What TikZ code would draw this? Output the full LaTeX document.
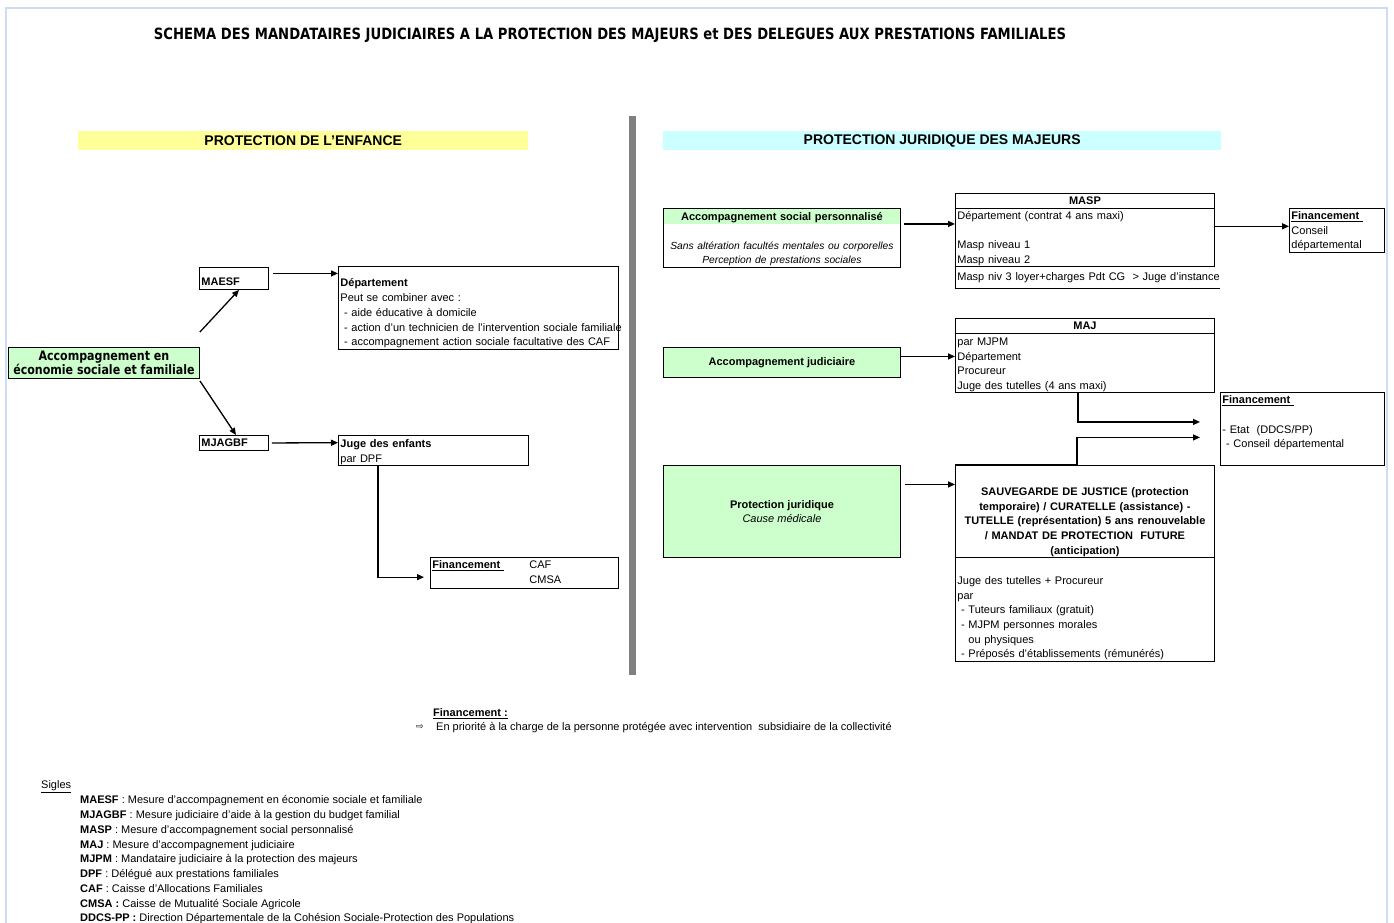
\documentclass[tikz,border=0pt]{standalone}
\usepackage{fontspec}
\setmainfont{Liberation Sans}
\newfontfamily\verdfont[FakeStretch=0.85]{DejaVu Sans}
\newfontfamily\symfont{DejaVu Sans}
\usetikzlibrary{arrows.meta,positioning,calc}
\definecolor{Cell}{HTML}{CCFFCC}
\definecolor{Jaune}{HTML}{FFFF99}
\definecolor{Ciel}{HTML}{CCFFFF}
\definecolor{Barre}{HTML}{808080}
\definecolor{Cadre}{HTML}{CFDCF5}
\newcommand\cellfont{\fontsize{11}{14.7}\selectfont}
\newcommand\haut[1]{\rule{0pt}{#1}}
\newcommand\bas[1]{\rule[-#1]{0pt}{#1}}

\begin{document}
\begin{tikzpicture}[x=1pt,y=-1pt,
    cell/.style={draw,line width=0.9pt,anchor=north west,inner xsep=2pt,inner ysep=1pt,
      align=left,font=\cellfont},
    mesure/.style={cell,fill=Cell,align=center},
    bandeau/.style={anchor=north west,minimum height=19pt,inner sep=0pt,
      font=\fontsize{14}{16}\selectfont\bfseries},
    texte/.style={anchor=west,inner sep=0pt,font=\cellfont},
    fleche/.style={-{Triangle[length=7pt,width=6pt]},line width=1.3pt}
  ]
    \useasboundingbox (0,0) rectangle (1394,923);
    \draw[Cadre,line width=2pt] (6,923) -- (6,8) -- (1387,8) -- (1387,923);

    \node[font=\verdfont\fontsize{15.5}{18}\selectfont\bfseries] (titre) at (610,35)
      {SCHEMA DES MANDATAIRES JUDICIAIRES A LA PROTECTION DES MAJEURS et DES DELEGUES AUX PRESTATIONS FAMILIALES};

    \node[bandeau,fill=Jaune,minimum width=450pt] (enfance) at (78,131) {PROTECTION DE L'ENFANCE};
    \node[bandeau,fill=Ciel,minimum width=558pt] (majeurs) at (663,131) {PROTECTION JURIDIQUE DES MAJEURS};
    \fill[Barre] (629,116) rectangle (636,675);

    % protection de l'enfance
    \node[mesure,font=\verdfont\fontsize{13}{14}\selectfont\bfseries,minimum width=191pt,minimum height=31pt]
      (aesf) at (8,347) {Accompagnement en\\économie sociale et familiale};
    \node[cell,font=\cellfont\bfseries,minimum width=69pt,text width=65pt,text height=15pt,text depth=0pt,
      inner ysep=3.5pt] (maesf) at (199,267) {MAESF};
    \node[cell,minimum width=280pt,text width=276pt,minimum height=82pt] (dept) at (338,266)
      {\haut{19.5pt}\textbf{Département}\\Peut se combiner avec :\\\ - aide éducative à domicile\\
       \mbox{\ - action d'un technicien de l'intervention sociale familiale}\\
       \ - accompagnement action sociale facultative des CAF};
    \node[cell,font=\cellfont\bfseries,minimum width=69pt,text width=65pt,minimum height=15pt]
      (mjagbf) at (199,435) {MJAGBF};
    \node[cell,minimum width=190pt,text width=186pt,minimum height=30pt] (juge) at (338,435)
      {\haut{11.5pt}\textbf{Juge des enfants}\\par DPF};
    \node[cell,minimum width=188pt,text width=184pt,minimum height=30pt] (finA) at (430,557)
      {\begin{tabular}{@{}p{97pt}@{}l@{}}\textbf{\underline{Financement\ }} & CAF\\ & CMSA\end{tabular}};

    \draw[fleche] ([yshift=15pt]aesf.north east) -- ([xshift=40pt]maesf.south west);
    \draw[fleche] ([yshift=-2pt]aesf.south east) -- ([xshift=37pt]mjagbf.north west);
    \draw[fleche] ([xshift=4pt,yshift=5pt]maesf.east) -- ([yshift=5pt]maesf.east -| dept.west);
    \draw[fleche] ([xshift=3pt]mjagbf.east) -- ([yshift=8pt]juge.west);
    \draw[fleche] ([xshift=40pt]juge.south west) |- ([xshift=-6pt,yshift=-4pt]finA.west);

    % protection des majeurs
    \node[cell,minimum width=237pt,text width=233pt,minimum height=59pt,align=center,
      path picture={\fill[Cell] (path picture bounding box.north west)
        rectangle ([yshift=-16pt]path picture bounding box.north east);}]
      (asp) at (663,208) {\haut{10.5pt}\textbf{Accompagnement social personnalisé}\\[14pt]
       \fontsize{10.3}{14.7}\selectfont\itshape Sans altération facultés mentales ou corporelles\\
       Perception de prestations sociales};
    \node[cell,font=\cellfont\bfseries,minimum width=259pt,minimum height=15pt,align=center]
      (maspT) at (955,193) {MASP};
    \node[cell,minimum width=259pt,text width=255pt,minimum height=57pt] (masp) at (955,208)
      {\haut{10.5pt}Département (contrat 4 ans maxi)\\[14.3pt]Masp niveau 1\\Masp niveau 2};
    \node[cell,draw=none,minimum width=264pt,text width=260pt,minimum height=21pt] (masp3) at (955,267)
      {\mbox{Masp niv 3 loyer+charges Pdt CG \ > Juge d'instance}};
    \draw[line width=0.9pt] (masp.south west) -- (masp3.south west) -- (masp3.south east);
    \node[cell,minimum width=95pt,text width=91pt,minimum height=43pt] (fin1) at (1289,208)
      {\haut{10pt}\textbf{\underline{Financement\ }}\\Conseil\\départemental};

    \draw[fleche] ([xshift=3pt,yshift=14pt]asp.east) -- ([yshift=14pt]asp.east -| masp.west);
    \draw[fleche] ([yshift=4pt]fin1.west -| masp.east) -- ([yshift=4pt]fin1.west);

    \node[mesure,font=\cellfont\bfseries,minimum width=237pt,minimum height=30pt] (aj) at (663,347)
      {Accompagnement judiciaire};
    \node[cell,font=\cellfont\bfseries,minimum width=259pt,minimum height=15pt,align=center]
      (majT) at (955,318) {MAJ};
    \node[cell,minimum width=259pt,text width=255pt,minimum height=58pt] (maj) at (955,333)
      {\haut{11pt}par MJPM\\Département\\Procureur\\Juge des tutelles (4 ans maxi)};
    \node[cell,minimum width=164pt,text width=160pt,minimum height=73pt] (finC) at (1220,392)
      {\haut{10pt}\textbf{\underline{Financement\ }}\\[14.7pt]- Etat \ (DDCS/PP)\\
       \ - Conseil départemental\bas{16.5pt}};

    \draw[fleche] ([yshift=6pt]aj.east) -- ([yshift=6pt]aj.east -| maj.west);

    \node[mesure,minimum width=237pt,minimum height=92pt] (pj) at (663,465)
      {\textbf{Protection juridique}\\\textit{Cause médicale}};
    \node[cell,font=\cellfont\bfseries,align=center,minimum width=259pt,text width=255pt,minimum height=92pt]
      (sauv) at (955,465)
      {\haut{29pt}SAUVEGARDE DE JUSTICE (protection\\temporaire) / CURATELLE (assistance) -\\
       \mbox{TUTELLE (représentation) 5 ans renouvelable}\\/ MANDAT DE PROTECTION \ FUTURE\\(anticipation)};
    \node[cell,minimum width=259pt,text width=255pt,minimum height=103pt] (sauvB) at (955,557)
      {\haut{26pt}Juge des tutelles + Procureur\\par\\\ - Tuteurs familiaux (gratuit)\\
       \ - MJPM personnes morales\\\ \ \ ou physiques\\\ - Préposés d'établissements (rémunérés)};

    \draw[fleche] ([xshift=4pt,yshift=27pt]pj.east) -- ([yshift=27pt]pj.east -| sauv.west);
    \draw[fleche] ([xshift=123pt]maj.south west) |- ([xshift=-20pt,yshift=7pt]finC.west);
    \draw[fleche] (sauv.north west) -- ([xshift=122pt]sauv.north west)
      |- ([xshift=-20pt,yshift=-8.5pt]finC.west);

    % notes
    \node[texte,font=\cellfont\bfseries] (finnote) at (433,714) {\underline{Financement :}};
    \node[inner sep=0pt,font=\symfont\fontsize{9}{10}\selectfont] (puce) at (420,727) {⇨};
    \node[texte] (prio) at (436,727.5)
      {En priorité à la charge de la personne protégée avec intervention \ subsidiaire de la collectivité};
    \node[texte] (sigles) at (41,787) {\underline{Sigles}\ };
    \node[anchor=north west,inner sep=0pt,align=left,font=\fontsize{11}{14.75}\selectfont] (liste) at (80,795.5)
      {\textbf{MAESF} : Mesure d'accompagnement en économie sociale et familiale\\
       \textbf{MJAGBF} : Mesure judiciaire d'aide à la gestion du budget familial\\
       \textbf{MASP} : Mesure d'accompagnement social personnalisé\\
       \textbf{MAJ} : Mesure d'accompagnement judiciaire\\
       \textbf{MJPM} : Mandataire judiciaire à la protection des majeurs\\
       \textbf{DPF} : Délégué aux prestations familiales\\
       \textbf{CAF} : Caisse d'Allocations Familiales\\
       \textbf{CMSA :} Caisse de Mutualité Sociale Agricole\\
       \textbf{DDCS-PP :} Direction Départementale de la Cohésion Sociale-Protection des Populations};
  \end{tikzpicture}
\end{document}
